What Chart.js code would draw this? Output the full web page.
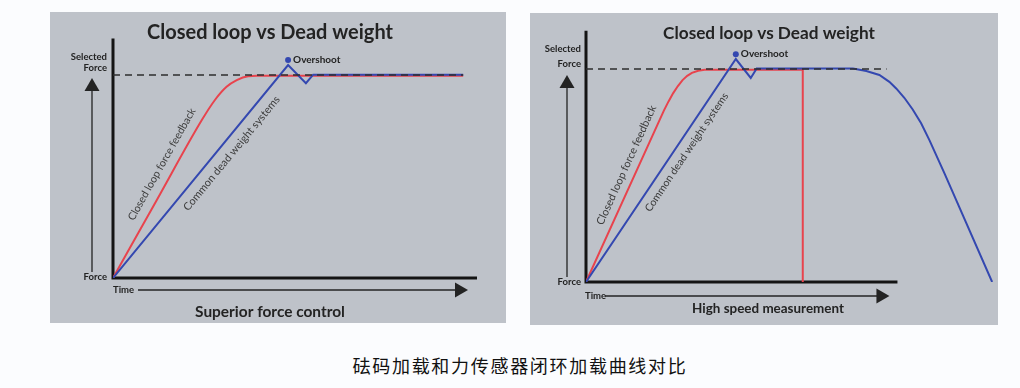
<!DOCTYPE html>
<html>
<head>
<meta charset="utf-8">
<script src="https://cdn.jsdelivr.net/npm/chart.js@4.4.1/dist/chart.umd.min.js"></script>
<style>
body { margin:0; background:#fbfcfe; width:1020px; height:388px; position:relative; overflow:hidden; }
.panel { position:absolute; background:#bec2c9; }
#p1 { left:50px; top:12px; width:456px; height:311px; }
#p2 { left:530px; top:13px; width:468px; height:312px; }
#cap { position:absolute; left:0; top:352px; width:1040px; text-align:center;
       font:18px "Noto Sans CJK SC"; letter-spacing:1.7px; color:#111; }
</style>
</head>
<body>
<div class="panel" id="p1"><canvas id="left" width="456" height="311"></canvas></div>
<div class="panel" id="p2"><canvas id="right" width="468" height="312"></canvas></div>
<div id="cap">砝码加载和力传感器闭环加载曲线对比</div>
<script>
/**********************************************
 *
 * Closed loop vs Dead weight (two panels)
 * x = time, y = force in % of selected force
 *
 * ****************************************/

// left panel: superior force control
var leftRedX  = [0, 12, 24.4, 28, 31.2, 34, 37.1, 39.5, 96.2];
var leftRedY  = [0, 38.3, 77.8, 87.7, 94.2, 97.5, 99.4, 99.6, 99.6];
var leftBlueX = [0, 48.1, 53, 55, 96.2];
var leftBlueY = [0, 104.9, 96, 100.2, 100.2];
var leftSetX  = [0, 96.2];
var leftSetY  = [100, 100];
var leftPeak  = [48.1, 107.4];

// right panel: high speed measurement
var rightRedX  = [0, 25, 26.5, 28, 29.5, 31, 32.5, 34, 36, 38.1, 69.6, 69.6];
var rightRedY  = [0, 80.5, 84.8, 88.7, 92, 94.8, 96.8, 98.2, 99.2, 99.7, 99.7, 0];
var rightBlueX = [0, 48.1, 52.9, 54.8, 85.7, 90, 94.2, 97.4, 99.6, 102.2, 104.9, 107.6, 110.3, 115.1, 130.4];
var rightBlueY = [0, 104.7, 95.8, 100.3, 100.3, 99.1, 97.2, 94, 90.9, 86.5, 81, 74.5, 66.5, 51, 0];
var rightSetX  = [0, 96.5];
var rightSetY  = [100, 100];
var rightPeak  = [48.1, 107];

var RED = '#e8434d', BLUE = '#3448b0', INK = '#232323';
var FONT = 'Lato, "Open Sans", sans-serif';

function pts(xs, ys) {
    return xs.map(function (x, i) { return { x: x, y: ys[i] }; });
}

function fit(ctx, text, weight, width) {
    ctx.font = weight + ' 20px ' + FONT;
    var size = 20 * width / ctx.measureText(text).width;
    ctx.font = weight + ' ' + size.toFixed(2) + 'px ' + FONT;
}

function decor(spec) {
    return {
        id: 'decor',
        beforeDatasetsDraw: function (chart) {
            var ctx = chart.ctx, a = chart.chartArea, xs = chart.scales.x;
            ctx.save();
            ctx.strokeStyle = '#141414';
            ctx.lineWidth = 3;
            ctx.beginPath();
            ctx.moveTo(a.left, a.top);
            ctx.lineTo(a.left, a.bottom);
            ctx.lineTo(xs.getPixelForValue(spec.axisEnd), a.bottom);
            ctx.stroke();
            ctx.restore();
        },
        afterDatasetsDraw: function (chart) {
            var ctx = chart.ctx, a = chart.chartArea;
            var xs = chart.scales.x, ys = chart.scales.y;
            var y100 = ys.getPixelForValue(100);
            ctx.save();
            ctx.fillStyle = INK;
            ctx.strokeStyle = INK;
            ctx.textBaseline = 'middle';

            // title and subtitle
            ctx.textAlign = 'center';
            fit(ctx, spec.title, 'bold', spec.titleW);
            ctx.fillText(spec.title, spec.titleX, spec.titleY);
            fit(ctx, spec.sub, 'bold', spec.subW);
            ctx.fillText(spec.sub, spec.subX, spec.subY);

            // y side labels
            ctx.textAlign = 'right';
            ctx.font = 'bold 9.5px ' + FONT;
            ctx.fillText('Selected', a.left - spec.selDx, y100 + spec.selY[0]);
            ctx.fillText('Force', a.left - spec.selDx, y100 + spec.selY[1]);
            ctx.fillText('Force', a.left - spec.selDx, a.bottom + spec.forceDy);

            // force arrow
            var ax = a.left - spec.arrowDx, apex = y100 + spec.arrowApex;
            ctx.lineWidth = 1.3;
            ctx.beginPath();
            ctx.moveTo(ax, a.bottom - spec.arrowBot);
            ctx.lineTo(ax, apex + 10);
            ctx.stroke();
            ctx.beginPath();
            ctx.moveTo(ax, apex);
            ctx.lineTo(ax - 7.5, apex + 13);
            ctx.lineTo(ax + 7.5, apex + 13);
            ctx.closePath();
            ctx.fill();

            // time arrow
            ctx.textAlign = 'left';
            var ty = a.bottom + spec.timeDy;
            ctx.fillText('Time', a.left + spec.timeDx, ty);
            var tx = xs.getPixelForValue(spec.axisEnd) - spec.timeEndDx;
            ctx.beginPath();
            ctx.moveTo(a.left + spec.timeStart, ty);
            ctx.lineTo(tx - 10, ty);
            ctx.stroke();
            ctx.beginPath();
            ctx.moveTo(tx, ty);
            ctx.lineTo(tx - 13, ty - 7.5);
            ctx.lineTo(tx - 13, ty + 7.5);
            ctx.closePath();
            ctx.fill();

            // overshoot
            ctx.font = 'bold 10px ' + FONT;
            ctx.fillText('Overshoot', xs.getPixelForValue(spec.peak[0]) + 5, ys.getPixelForValue(spec.peak[1]));

            // labels along the ramps
            ctx.fillStyle = '#3c3c3c';
            ctx.textAlign = 'center';
            spec.labels.forEach(function (l) {
                var p0 = l.line[0], p1 = l.line[1];
                var ang = Math.atan2(ys.getPixelForValue(p1.y) - ys.getPixelForValue(p0.y),
                                     xs.getPixelForValue(p1.x) - xs.getPixelForValue(p0.x));
                ctx.save();
                ctx.translate(xs.getPixelForValue(l.x), ys.getPixelForValue(l.y));
                ctx.rotate(ang);
                fit(ctx, l.text, 'normal', l.w);
                ctx.fillText(l.text, 0, 0);
                ctx.restore();
            });
            ctx.restore();
        }
    };
}

function makeChart(id, red, blue, set, peak, spec) {
    return new Chart(document.getElementById(id), {
        type: 'line',
        data: {
            datasets: [{
                data: set, borderColor: '#2e2e2e', borderWidth: 1.6, borderDash: [7, 5], order: 0
            }, {
                data: [{ x: peak[0], y: peak[1] }], showLine: false, pointRadius: 3,
                pointBackgroundColor: BLUE, pointBorderWidth: 0, order: 0
            }, {
                data: blue, borderColor: BLUE, borderWidth: 2, order: 1
            }, {
                data: red, borderColor: RED, borderWidth: 2, order: 2,
                cubicInterpolationMode: spec.redSmooth ? 'monotone' : 'default'
            }]
        },
        options: {
            responsive: false,
            animation: false,
            layout: { padding: spec.pad },
            elements: { point: { radius: 0 }, line: { tension: 0 } },
            scales: {
                x: { type: 'linear', min: 0, max: spec.xMax, display: false },
                y: { min: 0, max: spec.yMax, display: false }
            },
            plugins: { legend: { display: false }, tooltip: { enabled: false } }
        },
        plugins: [decor(spec)]
    });
}

var lRed = pts(leftRedX, leftRedY), lBlue = pts(leftBlueX, leftBlueY);
makeChart('left', lRed, lBlue, pts(leftSetX, leftSetY), leftPeak, {
    pad: { left: 63, right: 29, top: 26.5, bottom: 45 }, xMax: 100, yMax: 118, redSmooth: true,
    title: 'Closed loop vs Dead weight', titleX: 220, titleY: 21, titleW: 246,
    sub: 'Superior force control', subX: 220, subY: 300, subW: 150,
    axisEnd: 100, arrowDx: 21, arrowApex: 3, arrowBot: 6,
    selDx: 6, selY: [-18, -7], forceDy: -1,
    timeDy: 12, timeDx: 0, timeStart: 25, timeEndDx: 9,
    peak: leftPeak,
    labels: [
        { text: 'Closed loop force feedback', x: 13.4, y: 56, w: 127, line: [lRed[0], lRed[2]] },
        { text: 'Common dead weight systems', x: 32.6, y: 61.4, w: 145, line: [lBlue[0], lBlue[1]] }
    ]
});

var rRed = pts(rightRedX, rightRedY), rBlue = pts(rightBlueX, rightBlueY);
makeChart('right', rRed, rBlue, pts(rightSetX, rightSetY), rightPeak, {
    pad: { left: 56, right: 3.3, top: 17.7, bottom: 43 }, xMax: 131, yMax: 118, redSmooth: false,
    title: 'Closed loop vs Dead weight', titleX: 239, titleY: 20, titleW: 212,
    sub: 'High speed measurement', subX: 238, subY: 296, subW: 152,
    axisEnd: 100, arrowDx: 19, arrowApex: 6, arrowBot: 5,
    selDx: 5, selY: [-20, -5], forceDy: 0,
    timeDy: 14, timeDx: -1, timeStart: 19, timeEndDx: 8,
    peak: rightPeak,
    labels: [
        { text: 'Closed loop force feedback', x: 13.0, y: 54.9, w: 130, line: [rRed[0], rRed[1]] },
        { text: 'Common dead weight systems', x: 32.3, y: 60.9, w: 141, line: [rBlue[0], rBlue[1]] }
    ]
});
</script>
</body>
</html>
